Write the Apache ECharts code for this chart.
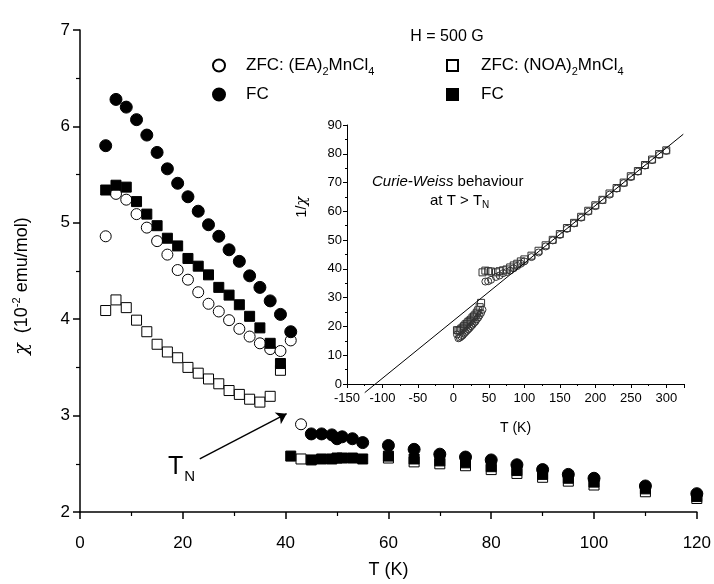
<!DOCTYPE html>
<html>
<head>
<meta charset="utf-8">
<script src="https://cdn.jsdelivr.net/npm/echarts@6/dist/echarts.min.js"></script>
<style>
  html, body { margin: 0; padding: 0; background: #fff; }
  #chart { width: 714px; height: 584px; }
</style>
</head>
<body>
<div id="chart"></div>
<script>
const FONT = "Liberation Sans";

// main panel: chi (10^-2 emu/mol) against T (K)
const eaZfcT = [5, 7, 9, 11, 13, 15, 17, 19, 21, 23, 25, 27, 29, 31, 33, 35, 37, 39, 41, 43];
const eaZfcChi = [4.86, 5.30, 5.24, 5.09, 4.95, 4.81, 4.67, 4.51, 4.41, 4.28, 4.16, 4.08, 3.99, 3.90, 3.82, 3.75, 3.69, 3.67, 3.78, 2.91];

const eaFcT = [5, 7, 9, 11, 13, 15, 17, 19, 21, 23, 25, 27, 29, 31, 33, 35, 37, 39, 41,
  45, 47, 49, 50, 51, 53, 55, 60, 65, 70, 75, 80, 85, 90, 95, 100, 110, 120];
const eaFcChi = [5.80, 6.28, 6.20, 6.07, 5.91, 5.73, 5.56, 5.41, 5.27, 5.12, 4.98, 4.86, 4.72, 4.60, 4.45, 4.33, 4.19, 4.05, 3.87,
  2.81, 2.81, 2.80, 2.76, 2.78, 2.76, 2.72, 2.69, 2.65, 2.60, 2.57, 2.54, 2.49, 2.44, 2.39, 2.35, 2.27, 2.19];

const noaZfcT = [5, 7, 9, 11, 13, 15, 17, 19, 21, 23, 25, 27, 29, 31, 33, 35, 37, 39,
  43, 60, 65, 70, 75, 80, 85, 90, 95, 100, 110, 120];
const noaZfcChi = [4.09, 4.20, 4.12, 3.99, 3.87, 3.74, 3.66, 3.60, 3.50, 3.44, 3.38, 3.33, 3.26, 3.22, 3.17, 3.14, 3.20, 3.47,
  2.55, 2.56, 2.52, 2.50, 2.48, 2.44, 2.40, 2.36, 2.32, 2.28, 2.21, 2.14];

const noaFcT = [5, 7, 9, 11, 13, 15, 17, 19, 21, 23, 25, 27, 29, 31, 33, 35, 37, 39,
  41, 45, 47, 49, 50, 51, 53, 55, 60, 65, 70, 75, 80, 85, 90, 95, 100, 110, 120];
const noaFcChi = [5.34, 5.39, 5.37, 5.22, 5.09, 4.97, 4.84, 4.76, 4.63, 4.55, 4.46, 4.33, 4.25, 4.15, 4.03, 3.91, 3.75, 3.54,
  2.58, 2.54, 2.55, 2.55, 2.56, 2.56, 2.56, 2.55, 2.58, 2.55, 2.53, 2.51, 2.47, 2.43, 2.39, 2.35, 2.31, 2.24, 2.16];

// inset: 1/chi against T (K)
const insetSqT = [5, 7, 9, 11, 13, 15, 17, 19, 21, 23, 25, 27, 29, 31, 33, 35, 37, 39,
  41, 45, 49, 53, 60, 65, 70, 75, 80, 85, 90, 95, 100, 110, 120,
  130, 140, 150, 160, 170, 180, 190, 200, 210, 220, 230, 240, 250, 260, 270, 280, 290, 300];
const insetSqInv = [18.7, 18.6, 18.6, 19.2, 19.6, 20.1, 20.7, 21.0, 21.6, 22.0, 22.4, 23.1, 23.5, 24.1, 24.8, 25.6, 26.7, 28.2,
  38.8, 39.4, 39.2, 39.1, 38.8, 39.2, 39.5, 39.8, 40.5, 41.2, 41.8, 42.6, 43.3, 44.6, 46.3,
  48.2, 50.1, 52.1, 54.2, 56.0, 58.1, 60.2, 62.1, 64.0, 66.2, 68.1, 70.0, 72.2, 74.0, 76.1, 78.0, 79.9, 81.2];

const insetCircT = [5, 7, 9, 11, 13, 15, 17, 19, 21, 23, 25, 27, 29, 31, 33, 35, 37, 39, 41,
  45, 49, 53, 60, 65, 70, 75, 80, 85, 90, 95, 100, 110, 120,
  130, 140, 150, 160, 170, 180, 190, 200, 210, 220, 230, 240, 250, 260, 270, 280, 290, 300];
const insetCircInv = [17.2, 15.9, 16.1, 16.5, 16.9, 17.5, 18.0, 18.5, 19.0, 19.5, 20.1, 20.6, 21.2, 21.7, 22.5, 23.1, 23.9, 24.7, 25.8,
  35.6, 35.7, 36.2, 37.2, 37.7, 38.5, 38.9, 39.4, 40.2, 41.0, 41.8, 42.6, 44.1, 45.7,
  47.8, 49.9, 51.8, 53.9, 55.8, 57.8, 59.9, 61.8, 63.9, 65.8, 67.9, 69.8, 71.9, 73.8, 75.9, 77.8, 79.6, 81.0];

// Curie-Weiss fit line, end points
const fitT = [-125, 324];
const fitInv = [-3, 86.8];

// T_N arrow, start and tip in main-panel data units
const arrowFrom = [23.3, 2.55];
const arrowTo = [40.2, 3.02];

const zip = (xs, ys) => xs.map((x, i) => [x, ys[i]]);

const subRich = {
  base: { fontFamily: FONT, fontSize: 17, color: "#000" },
  sub: { fontFamily: FONT, fontSize: 11, color: "#000", padding: [12, 0, 0, 0] },
};

const legendNames = {
  "ZFC: (EA)2MnCl4": "{base|ZFC: (EA)}{sub|2}{base|MnCl}{sub|4}",
  "FC (EA)": "{base|FC}",
  "ZFC: (NOA)2MnCl4": "{base|ZFC: (NOA)}{sub|2}{base|MnCl}{sub|4}",
  "FC (NOA)": "{base|FC}",
};

const mainAxis = (extra) => ({
  axisLine: { show: true, onZero: false, lineStyle: { color: "#000", width: 1.5 } },
  axisTick: { show: true, length: 7, lineStyle: { color: "#000", width: 1.5 } },
  minorTick: { show: true, splitNumber: 2, length: 4, lineStyle: { color: "#000", width: 1.2 } },
  splitLine: { show: false },
  nameLocation: "middle",
  nameTextStyle: { color: "#000", fontFamily: FONT, fontSize: 18 },
  ...extra,
});

const insetAxis = (extra) => ({
  axisLine: { show: true, onZero: false, lineStyle: { color: "#000", width: 1 } },
  axisTick: { show: true, length: 4, lineStyle: { color: "#000", width: 1 } },
  minorTick: { show: true, splitNumber: 2, length: 2, lineStyle: { color: "#000", width: 1 } },
  splitLine: { show: false },
  nameLocation: "middle",
  nameTextStyle: { color: "#000", fontFamily: FONT, fontSize: 14 },
  ...extra,
});

const openStyle = { color: "#fff", borderColor: "#000", borderWidth: 1, opacity: 1 };
const fullStyle = { color: "#000", borderColor: "#000", borderWidth: 1, opacity: 1 };
const insetStyle = { color: "rgba(255,255,255,0)", borderColor: "#333", borderWidth: 1, opacity: 1 };

const chart = echarts.init(document.getElementById("chart"));

chart.setOption({
  animation: false,
  backgroundColor: "#fff",
  title: {
    text: "H = 500 G",
    left: 442,
    top: 24,
    textAlign: "center",
    textStyle: { fontFamily: FONT, fontSize: 16, fontWeight: "normal", color: "#000" },
  },
  legend: [
    {
      orient: "vertical",
      left: 207,
      top: 52,
      itemWidth: 12,
      itemHeight: 12,
      itemGap: 9,
      data: [
        { name: "ZFC: (EA)2MnCl4", icon: "circle" },
        { name: "FC (EA)", icon: "circle" },
      ],
      formatter: (n) => legendNames[n],
      textStyle: { rich: subRich, padding: [0, 0, 0, 16] },
    },
    {
      orient: "vertical",
      left: 441,
      top: 52,
      itemWidth: 11,
      itemHeight: 11,
      itemGap: 9,
      data: [
        { name: "ZFC: (NOA)2MnCl4", icon: "rect" },
        { name: "FC (NOA)", icon: "rect" },
      ],
      formatter: (n) => legendNames[n],
      textStyle: { rich: subRich, padding: [0, 0, 0, 18] },
    },
  ],
  grid: [
    { left: 80, right: 16, top: 30, bottom: 69 },
    { left: 347, right: 30, top: 125, bottom: 200 },
  ],
  xAxis: [
    mainAxis({
      gridIndex: 0, type: "value", min: 0, max: 120, interval: 20, name: "T (K)", nameGap: 49,
      axisLabel: { color: "#000", fontFamily: FONT, fontSize: 17, margin: 23 },
    }),
    insetAxis({
      gridIndex: 1, type: "value", min: -150, max: 325, interval: 50, name: "T (K)", nameGap: 37,
      axisLabel: { color: "#000", fontFamily: FONT, fontSize: 13, margin: 8, showMaxLabel: false },
    }),
  ],
  yAxis: [
    mainAxis({
      gridIndex: 0, type: "value", min: 2, max: 7, interval: 1, nameGap: 46,
      axisLabel: { color: "#000", fontFamily: FONT, fontSize: 17, margin: 10 },
      name: "{g|χ}  (10{sup|-2} emu/mol)",
      nameTextStyle: {
        color: "#000", fontFamily: FONT, fontSize: 18, padding: [0, 0, 0, -30],
        rich: {
          g: { fontFamily: "DejaVu Serif", fontStyle: "italic", fontSize: 19 },
          sup: { fontFamily: FONT, fontSize: 11, padding: [0, 0, 12, 0] },
        },
      },
    }),
    insetAxis({
      gridIndex: 1, type: "value", min: 0, max: 90, interval: 10,
      axisLabel: { color: "#000", fontFamily: FONT, fontSize: 13, margin: 5 },
    }),
  ],
  series: [
    {
      name: "ZFC: (EA)2MnCl4", type: "scatter", xAxisIndex: 0, yAxisIndex: 0,
      symbol: "circle", symbolSize: 11, itemStyle: openStyle, data: zip(eaZfcT, eaZfcChi),
      markLine: {
        silent: true, symbol: ["none", "arrow"], symbolSize: 10,
        lineStyle: { color: "#000", width: 1.4, type: "solid", opacity: 1 },
        itemStyle: { color: "#000" },
        label: { show: false },
        data: [[{ coord: arrowFrom }, { coord: arrowTo }]],
      },
    },
    {
      name: "ZFC: (NOA)2MnCl4", type: "scatter", xAxisIndex: 0, yAxisIndex: 0,
      symbol: "rect", symbolSize: 10, itemStyle: openStyle, data: zip(noaZfcT, noaZfcChi),
    },
    {
      name: "FC (EA)", type: "scatter", xAxisIndex: 0, yAxisIndex: 0,
      symbol: "circle", symbolSize: 12, itemStyle: fullStyle, data: zip(eaFcT, eaFcChi),
    },
    {
      name: "FC (NOA)", type: "scatter", xAxisIndex: 0, yAxisIndex: 0,
      symbol: "rect", symbolSize: 10, itemStyle: fullStyle, data: zip(noaFcT, noaFcChi),
    },
    {
      name: "fit", type: "line", xAxisIndex: 1, yAxisIndex: 1, clip: false,
      symbol: "none", lineStyle: { color: "#000", width: 1 }, data: zip(fitT, fitInv),
    },
    {
      name: "inset EA", type: "scatter", xAxisIndex: 1, yAxisIndex: 1,
      symbol: "circle", symbolSize: 7, itemStyle: insetStyle, data: zip(insetCircT, insetCircInv),
    },
    {
      name: "inset NOA", type: "scatter", xAxisIndex: 1, yAxisIndex: 1,
      symbol: "rect", symbolSize: 7, itemStyle: insetStyle, data: zip(insetSqT, insetSqInv),
    },
  ],
  graphic: [
    {
      type: "text", x: 302, y: 207, rotation: Math.PI / 2,
      style: {
        text: "1/{g|χ}", fontFamily: FONT, fontSize: 14, fill: "#000",
        align: "center", verticalAlign: "middle",
        rich: { g: { fontFamily: "DejaVu Serif", fontStyle: "italic", fontSize: 15 } },
      },
    },
    {
      type: "text", left: 372, top: 174,
      style: {
        text: "{i|Curie-Weiss} behaviour",
        fontFamily: FONT, fontSize: 15, fill: "#000",
        rich: { i: { fontFamily: FONT, fontStyle: "italic", fontSize: 15 } },
      },
    },
    {
      type: "text", left: 430, top: 193,
      style: {
        text: "at T > T{s|N}",
        fontFamily: FONT, fontSize: 15, fill: "#000",
        rich: { s: { fontFamily: FONT, fontSize: 10, padding: [10, 0, 0, 0] } },
      },
    },
    {
      type: "text", left: 168, top: 455,
      style: {
        text: "{t|T}{n|N}",
        fill: "#000",
        rich: {
          t: { fontFamily: FONT, fontSize: 25 },
          n: { fontFamily: FONT, fontSize: 15, padding: [18, 0, 0, 1] },
        },
      },
    },
  ],
});
</script>
</body>
</html>
